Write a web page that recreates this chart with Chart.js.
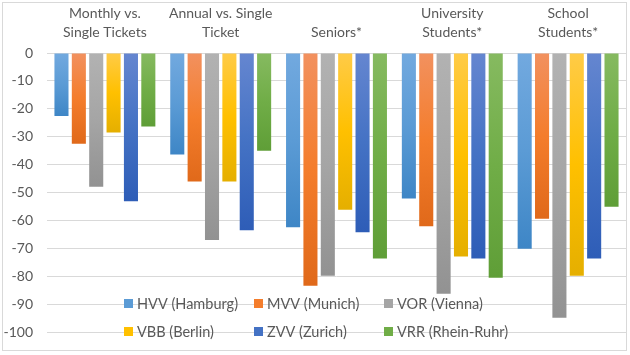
<!DOCTYPE html>
<html>
<head>
<meta charset="utf-8">
<script src="https://cdn.jsdelivr.net/npm/chart.js@4/dist/chart.umd.min.js"></script>
<style>
html,body{margin:0;padding:0;background:#fff;}
#wrap{width:630px;height:355px;position:relative;}
</style>
</head>
<body>
<div id="wrap"><canvas id="c" width="630" height="355"></canvas></div>
<script>
const categories = [
  ["Monthly vs.", "Single Tickets"],
  ["Annual vs. Single", "Ticket"],
  ["Seniors*"],
  ["University", "Students*"],
  ["School", "Students*"]
];
const seriesNames = ["HVV (Hamburg)", "MVV (Munich)", "VOR (Vienna)", "VBB (Berlin)", "ZVV (Zurich)", "VRR (Rhein-Ruhr)"];
const hvv = [-22.5, -36.3, -62.3, -52.0, -70.0];
const mvv = [-32.5, -46.0, -83.2, -62.0, -59.3];
const vor = [-47.8, -66.9, -79.7, -86.1, -94.7];
const vbb = [-28.4, -46.0, -56.1, -72.8, -79.7];
const zvv = [-53.0, -63.4, -64.1, -73.5, -73.5];
const vrr = [-26.3, -35.0, -73.5, -80.4, -55.0];
const yTicks = [0, -10, -20, -30, -40, -50, -60, -70, -80, -90, -100];

const seriesValues = [hvv, mvv, vor, vbb, zvv, vrr];
const palette = [
  ["#72A9DF", "#5B9BD5", "#3E86C6"],
  ["#F2915F", "#F47D2C", "#E0691A"],
  ["#B2B2B2", "#A5A5A5", "#929292"],
  ["#FFCB47", "#FFC000", "#E5AF00"],
  ["#6586D0", "#4472C4", "#2E5DB7"],
  ["#86BA60", "#70AD47", "#5F9E37"]
];
const textColor = "#595959";
const FONT = "Lato, 'Open Sans', sans-serif";

function gradFor(i) {
  return function(ctx) {
    const chart = ctx.chart;
    const area = chart.chartArea;
    if (!area || ctx.type !== 'data' || !chart.scales.y) return palette[i][1];
    const y0 = chart.scales.y.getPixelForValue(0);
    const y1 = chart.scales.y.getPixelForValue(ctx.raw);
    if (Math.abs(y1 - y0) < 1) return palette[i][1];
    const g = chart.ctx.createLinearGradient(0, y0, 0, y1);
    g.addColorStop(0, palette[i][0]);
    g.addColorStop(0.5, palette[i][1]);
    g.addColorStop(1, palette[i][2]);
    return g;
  };
}

const datasets = seriesNames.map((name, i) => ({
  label: name,
  data: seriesValues[i],
  backgroundColor: gradFor(i),
  borderWidth: 0,
  categoryPercentage: 0.9,
  barPercentage: 0.81
}));

const overlayPlugin = {
  id: 'overlay',
  afterDraw(chart) {
    const c = chart.ctx;
    c.save();
    // legend inside plot area
    c.font = "14.5px " + FONT;
    c.textBaseline = "middle";
    c.textAlign = "left";
    const x0 = 124, colW = 130, rows = [303.5, 331.5];
    seriesNames.forEach((name, i) => {
      const col = i % 3, row = Math.floor(i / 3);
      const x = x0 + col * colW, y = rows[row];
      c.fillStyle = palette[i][1];
      c.fillRect(x, y - 4.5, 9, 9);
      c.fillStyle = textColor;
      c.fillText(name, x + 13, y + 0.5);
    });
    // outer border
    c.strokeStyle = "#D9D9D9";
    c.lineWidth = 1;
    c.strokeRect(2.5, 2.5, 624, 348);
    c.restore();
  }
};

new Chart(document.getElementById('c'), {
  type: 'bar',
  data: { labels: categories, datasets: datasets },
  plugins: [overlayPlugin],
  options: {
    responsive: false,
    animation: false,
    devicePixelRatio: 1,
    layout: { padding: { left: 0, top: 0, right: 4, bottom: 14 } },
    plugins: { legend: { display: false }, tooltip: { enabled: false } },
    scales: {
      x: {
        position: 'top',
        grid: { display: false, drawTicks: false },
        border: { display: false },
        ticks: { color: textColor, font: { family: FONT, size: 14, lineHeight: 1.35 }, padding: 11, maxRotation: 0, autoSkip: false },
        afterFit(s) { s.height = 53; }
      },
      y: {
        min: -100, max: 0,
        afterBuildTicks(s) { s.ticks = yTicks.map(v => ({ value: v })); },
        grid: { color: "#D9D9D9", drawTicks: false },
        border: { display: false },
        ticks: { color: textColor, font: { family: FONT, size: 14 }, padding: 14 },
        afterFit(s) { s.width = 47; }
      }
    }
  }
});
</script>
</body>
</html>
